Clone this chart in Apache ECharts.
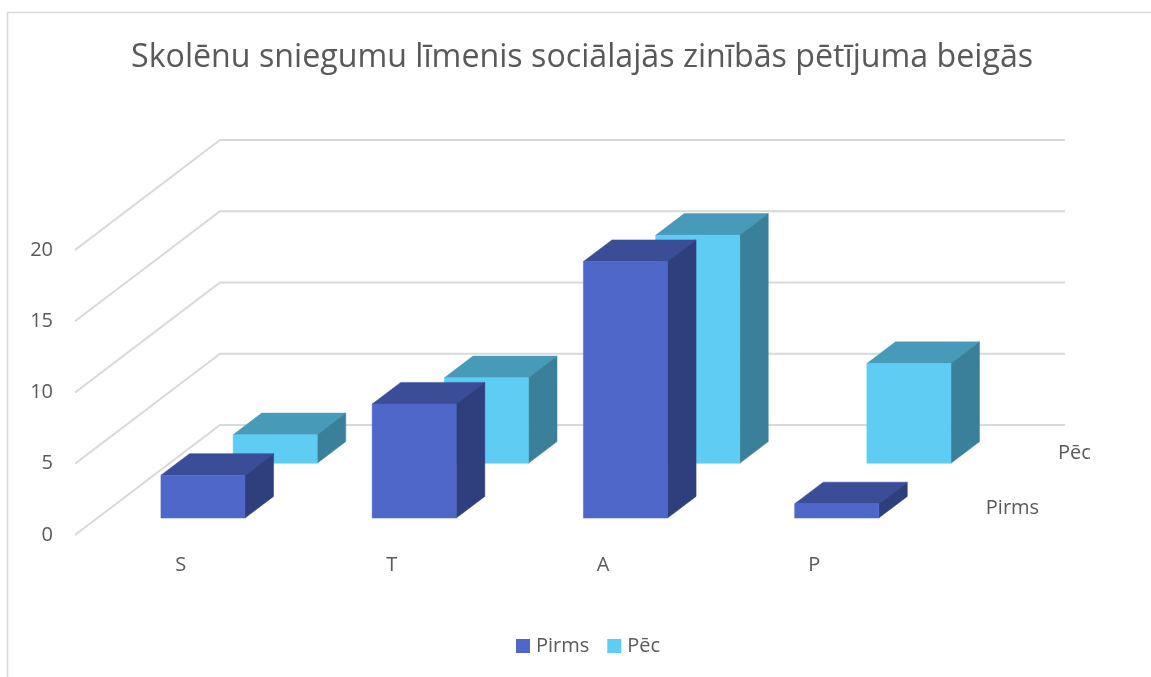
<!DOCTYPE html>
<html>
<head>
<meta charset="utf-8">
<title>Skolēnu sniegumu līmenis</title>
<script src="https://cdn.jsdelivr.net/npm/echarts@6/dist/echarts.min.js"></script>
<style>
  html, body { margin: 0; padding: 0; background: #fff; }
  #chart { width: 1151px; height: 677px; }
</style>
</head>
<body>
<div id="chart"></div>
<script>
const titleText = 'Skolēnu sniegumu līmenis sociālajās zinībās pētījuma beigās';
const categories = ['S', 'T', 'A', 'P'];
const yTicks = [0, 5, 10, 15, 20];
const pirms = [3, 8, 18, 1];
const pec = [2, 6, 16, 7];

// 3D projection: moving back through the whole floor shifts a point by this much
const DEPTH_X = 145;
const DEPTH_Y = -110;
const ROW_PIRMS = 0.154;
const ROW_PEC = 0.652;
const BAR_DEPTH = 0.197;
const BAR_WIDTH = 0.398; // share of the category band

const textColor = '#595959';
const fontFamily = '"Open Sans", "Noto Sans", sans-serif';

function shift(point, depth) {
  return [point[0] + DEPTH_X * depth, point[1] + DEPTH_Y * depth];
}

function face(points, color) {
  return {
    type: 'polygon',
    shape: { points: points },
    style: { fill: color, stroke: color, lineWidth: 0.5 }
  };
}

// one box: front, top and right side
function barRenderer(row, colors) {
  return function (params, api) {
    const band = api.size([1, 0])[0];
    const w = band * BAR_WIDTH;
    const base = shift(api.coord([api.value(0), 0]), row);
    const top = shift(api.coord([api.value(0), api.value(1)]), row);
    const x0 = base[0] - w / 2;
    const x1 = base[0] + w / 2;
    const fl = [x0, top[1]];
    const fr = [x1, top[1]];
    const br = [x1, base[1]];
    const bl = [x0, base[1]];
    return {
      type: 'group',
      children: [
        face([fl, shift(fl, BAR_DEPTH), shift(fr, BAR_DEPTH), fr], colors.top),
        face([fr, shift(fr, BAR_DEPTH), shift(br, BAR_DEPTH), br], colors.side),
        face([fl, fr, br, bl], colors.front)
      ]
    };
  };
}

// side wall + back wall line for every y tick
function wallRenderer(params, api) {
  const band = api.size([1, 0])[0];
  const v = api.value(1);
  const first = api.coord([0, v]);
  const last = api.coord([categories.length - 1, v]);
  const start = [first[0] - band / 2, first[1]];
  const end = [last[0] + band / 2, last[1]];
  return {
    type: 'polyline',
    shape: { points: [start, shift(start, 1), shift(end, 1)] },
    style: { fill: null, stroke: '#d9d9d9', lineWidth: 2 }
  };
}

// names of the depth axis, right of the floor
function depthLabelRenderer(params, api) {
  const band = api.size([1, 0])[0];
  const end = api.coord([categories.length - 1, 0]);
  const row = params.dataIndex === 0 ? ROW_PIRMS : ROW_PEC;
  const p = shift([end[0] + band / 2 + 43.5, end[1] - 9.5], row);
  return {
    type: 'text',
    x: p[0],
    y: p[1],
    style: {
      text: params.dataIndex === 0 ? 'Pirms' : 'Pēc',
      fill: textColor,
      font: '20px ' + fontFamily,
      textAlign: 'left',
      textVerticalAlign: 'middle'
    }
  };
}

const chart = echarts.init(document.getElementById('chart'));
chart.setOption({
  animation: false,
  backgroundColor: '#fff',
  title: {
    text: titleText,
    left: 126,
    top: 37,
    textStyle: { color: textColor, fontFamily: fontFamily, fontSize: 32.2, fontWeight: 'normal' }
  },
  legend: {
    data: ['Pirms', 'Pēc'],
    left: 511,
    top: 631,
    icon: 'rect',
    itemWidth: 14,
    itemHeight: 14,
    itemGap: 18,
    selectedMode: false,
    textStyle: { color: textColor, fontFamily: fontFamily, fontSize: 20, padding: [0, 0, 0, 1] }
  },
  grid: { left: 75, top: 250, width: 845, height: 285 },
  xAxis: {
    type: 'category',
    data: categories,
    axisLine: { show: false },
    axisTick: { show: false },
    axisLabel: { color: textColor, fontFamily: fontFamily, fontSize: 20, margin: 20 }
  },
  yAxis: {
    type: 'value',
    min: 0,
    max: 20,
    interval: 5,
    axisLine: { show: false },
    axisTick: { show: false },
    splitLine: { show: false },
    axisLabel: { color: textColor, fontFamily: fontFamily, fontSize: 20, margin: 22 }
  },
  graphic: [
    {
      type: 'polyline',
      silent: true,
      shape: { points: [[7.5, 677], [7.5, 12.5], [1151, 12.5]] },
      style: { fill: null, stroke: '#d9d9d9', lineWidth: 1.5 }
    }
  ],
  series: [
    {
      type: 'custom',
      name: 'walls',
      silent: true,
      renderItem: wallRenderer,
      data: yTicks.map(v => [0, v]),
      encode: { x: 0, y: 1 }
    },
    {
      type: 'custom',
      name: 'Pēc',
      itemStyle: { color: '#5ECCF3' },
      renderItem: barRenderer(ROW_PEC, { front: '#5ECCF3', top: '#479BB9', side: '#3B809A' }),
      data: pec.map((v, i) => [i, v]),
      encode: { x: 0, y: 1 }
    },
    {
      type: 'custom',
      name: 'Pirms',
      itemStyle: { color: '#4E67C8' },
      renderItem: barRenderer(ROW_PIRMS, { front: '#4E67C8', top: '#3A4D96', side: '#2F3F7E' }),
      data: pirms.map((v, i) => [i, v]),
      encode: { x: 0, y: 1 }
    },
    {
      type: 'custom',
      name: 'depthLabels',
      silent: true,
      renderItem: depthLabelRenderer,
      data: [[0, 0], [0, 0]],
      encode: { x: 0, y: 1 }
    }
  ]
});
</script>
</body>
</html>
